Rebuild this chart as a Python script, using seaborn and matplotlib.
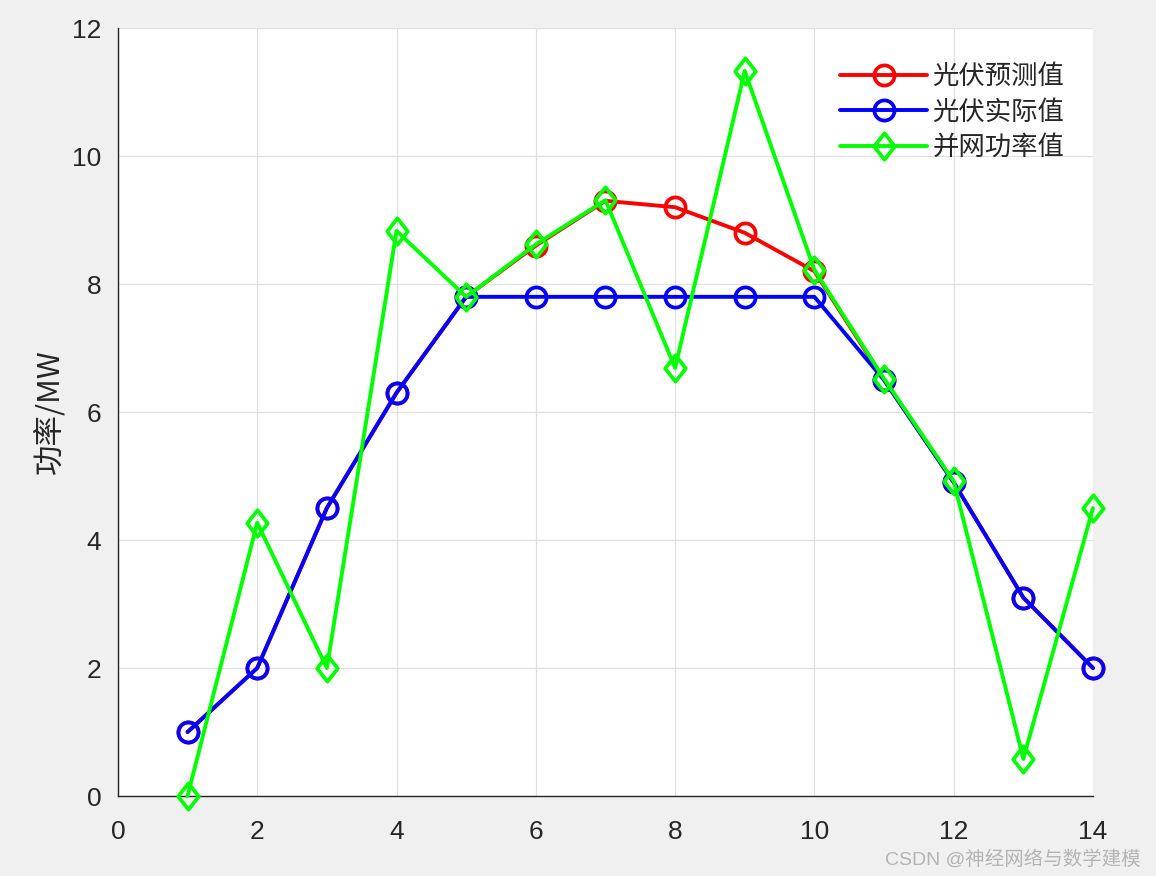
import matplotlib.pyplot as plt
import numpy as np
import pandas as pd
import seaborn as sns
from matplotlib.path import Path

hours = [1, 2, 3, 4, 5, 6, 7, 8, 9, 10, 11, 12, 13, 14]
pv_forecast = [1.0, 2.0, 4.5, 6.3, 7.8, 8.6, 9.3, 9.2, 8.8, 8.2, 6.5, 4.9, 3.1, 2.0]
pv_actual = [1.0, 2.0, 4.5, 6.3, 7.8, 7.8, 7.8, 7.8, 7.8, 7.8, 6.5, 4.9, 3.1, 2.0]
grid_power = [0.0, 4.27, 2.0, 8.83, 7.8, 8.62, 9.31, 6.69, 11.33, 8.22, 6.52, 4.92, 0.58, 4.5]

# matlab-like diamond, a bit taller than wide
diamond = Path([(0, 1), (0.78, 0), (0, -1), (-0.78, 0), (0, 1)],
               [Path.MOVETO, Path.LINETO, Path.LINETO, Path.LINETO, Path.CLOSEPOLY])

series = [
    ("光伏预测值", pv_forecast, "#ff0000", "o", 14.5),
    ("光伏实际值", pv_actual, "#0000ff", "o", 14.5),
    ("并网功率值", grid_power, "#00ff00", diamond, 19),
]

sns.set_style("white")
plt.rcParams["font.family"] = ["Liberation Sans", "Noto Sans CJK SC", "DejaVu Sans"]

fig = plt.figure(figsize=(11.56, 8.76), dpi=100, facecolor="#f0f0f0")
ax = fig.add_axes([0.102, 0.0913, 0.8435, 0.8767])

for name, values, color, marker, msize in series:
    df = pd.DataFrame({"x": hours, "y": values})
    sns.lineplot(
        data=df, x="x", y="y", ax=ax, color=color, linewidth=2.8,
        marker=marker, markersize=msize,
        markerfacecolor="none", markeredgecolor=color, markeredgewidth=2.7,
        label=name, clip_on=False, zorder=3,
    )

ax.set_xlim(0, 14)
ax.set_ylim(0, 12)
ax.set_xticks(np.arange(0, 15, 2))
ax.set_yticks(np.arange(0, 13, 2))
ax.set_xlabel("")
ax.set_ylabel("功率/MW", fontsize=22, color="#262626", labelpad=4,
              family=["Noto Sans CJK SC", "Liberation Sans"])
ax.tick_params(direction="in", length=6, labelsize=19, colors="#262626", pad=12)
ax.tick_params(axis="x", pad=17)
ax.grid(True, color="#e0e0e0", linewidth=0.9)
for side in ["top", "right"]:
    ax.spines[side].set_visible(False)
for side in ["left", "bottom"]:
    ax.spines[side].set_color("#262626")
    ax.spines[side].set_linewidth(1.0)

leg = ax.legend(loc="upper right", bbox_to_anchor=(0.987, 0.975), frameon=False,
                prop={"family": "Noto Sans CJK SC", "size": 19},
                handlelength=3.3, labelspacing=0.32, handletextpad=0.2,
                borderaxespad=0.2)

fig.text(0.987, 0.008, "CSDN @神经网络与数学建模", ha="right", va="bottom",
         fontsize=14, color="#b4b4b4",
         family=["Liberation Sans", "Noto Sans CJK SC"])

fig.savefig("out.png", dpi=100, facecolor=fig.get_facecolor())
